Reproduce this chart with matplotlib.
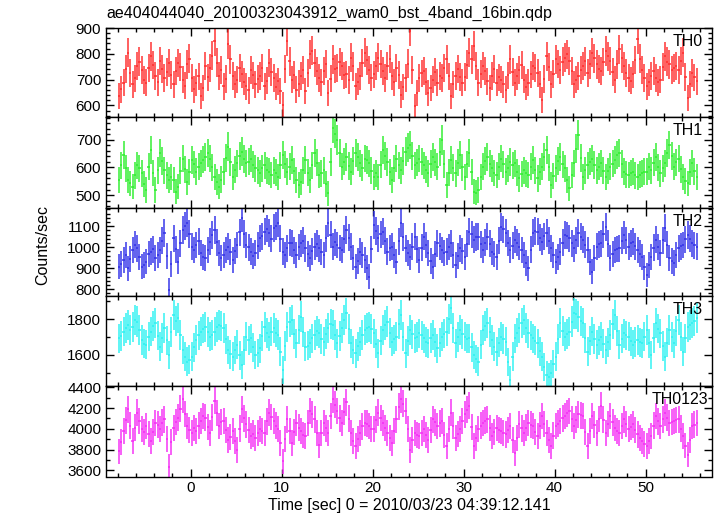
import numpy as np
import matplotlib
matplotlib.use("Agg")
import matplotlib.pyplot as plt
from matplotlib.ticker import MultipleLocator

plt.rcParams['font.family'] = ['Liberation Sans', 'DejaVu Sans']

# time bin centers (16 x 1/64 s = 0.25 s bins)
bin_width = 0.25
time = np.arange(-7.875, 55.70, bin_width)

th0 = [635, 662, 687, 741, 804, 726, 681, 705, 752, 770, 739, 698, 687, 745, 791, 757, 713, 689, 772, 741,
       707, 728, 765, 718, 681, 732, 765, 748, 700, 676, 759, 781, 707, 662, 687, 712, 635, 668, 752, 709,
       746, 793, 850, 766, 713, 739, 674, 702, 837, 779, 713, 681, 700, 744, 720, 692, 674, 658, 739, 716,
       681, 702, 713, 744, 674, 696, 765, 728, 707, 672, 694, 655, 603, 742, 850, 771, 700, 718, 661, 683,
       713, 736, 655, 727, 798, 812, 765, 732, 707, 689, 733, 761, 648, 704, 778, 740, 746, 768, 752, 716,
       720, 698, 785, 751, 674, 692, 713, 765, 804, 775, 739, 708, 720, 752, 785, 761, 733, 707, 752, 780,
       713, 690, 746, 719, 642, 671, 707, 762, 888, 736, 597, 648, 707, 724, 733, 691, 648, 667, 700, 729,
       687, 714, 707, 745, 778, 712, 635, 682, 713, 740, 711, 688, 711, 758, 804, 779, 830, 752, 687, 721,
       752, 733, 694, 668, 713, 742, 687, 709, 700, 681, 661, 716, 778, 730, 687, 712, 739, 756, 700, 671,
       687, 720, 752, 744, 726, 681, 622, 703, 791, 748, 681, 722, 778, 761, 739, 769, 785, 798, 772, 735,
       681, 700, 713, 738, 752, 771, 726, 759, 804, 782, 759, 741, 733, 768, 811, 790, 772, 731, 700, 759,
       817, 783, 752, 726, 707, 695, 720, 776, 856, 781, 739, 707, 674, 690, 713, 734, 707, 689, 700, 748,
       791, 770, 759, 737, 746, 752, 739, 772, 804, 710, 629, 681, 726, 709, 694]

th1 = [554, 608, 645, 596, 554, 542, 530, 571, 608, 597, 578, 541, 518, 602, 663, 580, 518, 589, 651, 622,
       590, 571, 554, 566, 554, 512, 530, 588, 632, 594, 548, 583, 626, 611, 584, 602, 614, 628, 639, 651,
       632, 601, 566, 547, 530, 556, 584, 633, 675, 619, 566, 592, 614, 640, 657, 629, 614, 621, 632, 610,
       596, 589, 578, 597, 608, 590, 584, 572, 590, 581, 566, 608, 645, 611, 584, 603, 626, 587, 554, 536,
       548, 590, 626, 581, 554, 607, 651, 617, 572, 579, 590, 541, 506, 620, 741, 722, 699, 651, 602, 621,
       639, 605, 584, 622, 651, 636, 614, 598, 632, 627, 614, 588, 566, 579, 566, 610, 663, 642, 620, 583,
       554, 596, 632, 608, 590, 624, 657, 671, 681, 640, 608, 617, 632, 621, 608, 591, 578, 612, 639, 618,
       602, 655, 699, 612, 536, 581, 626, 598, 578, 617, 645, 601, 566, 611, 651, 583, 512, 509, 518, 566,
       602, 624, 639, 613, 596, 580, 572, 603, 632, 611, 584, 597, 620, 608, 614, 582, 560, 576, 590, 579,
       572, 603, 626, 589, 560, 584, 602, 637, 663, 600, 536, 569, 596, 622, 639, 611, 596, 553, 524, 572,
       614, 668, 717, 634, 566, 590, 608, 621, 632, 609, 590, 603, 614, 588, 566, 587, 602, 613, 626, 644,
       651, 612, 584, 575, 572, 580, 584, 571, 566, 574, 578, 585, 584, 603, 590, 617, 639, 601, 578, 597,
       614, 652, 681, 641, 602, 618, 632, 594, 566, 551, 542, 583, 614, 586, 566]

th2 = [908, 921, 940, 961, 900, 944, 987, 1012, 995, 952, 908, 915, 932, 968, 979, 990, 947, 963, 987, 1031,
       1067, 958, 797, 921, 1043, 990, 932, 1018, 1082, 1101, 1114, 1062, 1003, 987, 1011, 1029, 971, 955, 947, 986,
       1027, 1058, 1082, 1024, 971, 949, 963, 988, 1003, 976, 940, 982, 1011, 1071, 1138, 1062, 1011, 1000, 979, 958,
       971, 1008, 1043, 1052, 1074, 1089, 1067, 1041, 1090, 1102, 1114, 1040, 979, 962, 995, 1022, 1019, 985, 963, 1001,
       1019, 1030, 995, 968, 947, 980, 1003, 1016, 995, 977, 963, 1043, 1114, 1060, 1003, 1024, 1011, 996, 987, 1039,
       1082, 1045, 1003, 951, 908, 934, 979, 965, 940, 903, 860, 990, 1106, 1078, 1043, 1061, 1074, 1032, 979, 997,
       1003, 962, 932, 1028, 1114, 1049, 995, 971, 955, 1003, 1051, 990, 940, 998, 1051, 1010, 971, 936, 908, 968,
       1019, 1004, 987, 974, 979, 1002, 1019, 961, 916, 958, 995, 981, 955, 1016, 1074, 1061, 1035, 1049, 1051, 1013,
       987, 1022, 1051, 1017, 979, 966, 955, 1031, 1098, 1085, 1067, 1020, 987, 1008, 1035, 1021, 1003, 987, 963, 925,
       900, 989, 1067, 1078, 1074, 1046, 1027, 1052, 1067, 1030, 995, 961, 932, 954, 979, 1021, 1059, 1055, 1043, 1018,
       995, 1033, 1067, 1050, 1035, 1012, 987, 929, 884, 947, 1003, 1014, 1019, 1061, 1098, 1016, 947, 968, 987, 992,
       995, 1030, 1059, 1033, 1003, 1018, 1027, 1004, 987, 970, 955, 905, 868, 916, 955, 998, 1035, 1002, 971, 1034,
       1090, 1012, 947, 936, 924, 962, 995, 1004, 1011, 1037, 1059, 1041, 1019, 1009, 1003]

th3 = [1693, 1705, 1731, 1752, 1768, 1738, 1759, 1795, 1787, 1741, 1684, 1662, 1656, 1702, 1731, 1760, 1777, 1708, 1647, 1695,
       1749, 1681, 1600, 1727, 1824, 1789, 1805, 1712, 1628, 1590, 1563, 1574, 1591, 1642, 1684, 1709, 1731, 1748, 1759, 1728,
       1703, 1712, 1731, 1755, 1768, 1761, 1749, 1690, 1628, 1603, 1591, 1628, 1656, 1598, 1544, 1627, 1703, 1681, 1693, 1642,
       1600, 1611, 1637, 1705, 1759, 1724, 1703, 1731, 1749, 1725, 1712, 1618, 1516, 1650, 1759, 1783, 1796, 1718, 1665, 1742,
       1815, 1729, 1647, 1652, 1665, 1693, 1712, 1733, 1721, 1690, 1675, 1718, 1749, 1772, 1768, 1711, 1665, 1707, 1749, 1796,
       1833, 1747, 1665, 1628, 1609, 1648, 1675, 1712, 1740, 1752, 1759, 1744, 1721, 1663, 1609, 1680, 1740, 1769, 1787, 1722,
       1675, 1688, 1703, 1771, 1824, 1702, 1609, 1678, 1740, 1715, 1693, 1701, 1721, 1710, 1693, 1672, 1665, 1694, 1712, 1670,
       1637, 1668, 1703, 1719, 1731, 1802, 1861, 1752, 1665, 1701, 1740, 1718, 1703, 1691, 1693, 1642, 1600, 1578, 1563, 1656,
       1740, 1762, 1777, 1728, 1684, 1647, 1619, 1668, 1703, 1690, 1675, 1561, 1460, 1590, 1693, 1725, 1749, 1780, 1796, 1752,
       1721, 1710, 1693, 1680, 1665, 1621, 1591, 1532, 1488, 1479, 1497, 1548, 1591, 1690, 1777, 1736, 1703, 1718, 1731, 1787,
       1833, 1829, 1815, 1792, 1777, 1694, 1619, 1680, 1731, 1690, 1656, 1681, 1703, 1662, 1628, 1671, 1712, 1771, 1824, 1735,
       1656, 1692, 1721, 1710, 1703, 1676, 1656, 1673, 1684, 1671, 1665, 1702, 1740, 1665, 1600, 1694, 1777, 1748, 1721, 1650,
       1591, 1668, 1740, 1701, 1665, 1734, 1796, 1702, 1619, 1693, 1759, 1766, 1777, 1790, 1805]

th0123 = [3782, 3871, 3977, 4082, 4188, 4030, 3880, 4012, 4156, 4075, 3994, 3968, 4026, 3951, 3880, 3972, 4058, 4041, 3994, 4060,
          4091, 3902, 3636, 3870, 4010, 4066, 4107, 4191, 4286, 4143, 4026, 3987, 3961, 4004, 3977, 4031, 4075, 4122, 4107, 4018,
          3961, 4109, 4270, 4152, 4026, 4063, 4075, 3988, 3896, 3921, 3977, 3885, 3798, 4002, 4188, 4101, 4042, 3986, 3929, 3954,
          3912, 3960, 3994, 3981, 3961, 4070, 4156, 4112, 4075, 4030, 3994, 3862, 3685, 3902, 4091, 3975, 3864, 3969, 4058, 4012,
          3977, 3940, 3929, 4058, 4172, 4140, 4091, 3963, 3847, 3958, 4058, 4003, 3961, 4124, 4286, 4230, 4172, 4101, 4058, 4165,
          4254, 4098, 3961, 3880, 3831, 3902, 3961, 4022, 4058, 4049, 4026, 4001, 3994, 4087, 4156, 4103, 4058, 4004, 3961, 3913,
          3864, 3982, 4091, 4213, 4286, 4240, 4172, 3995, 3798, 3889, 3961, 3942, 3929, 3963, 3994, 3937, 3896, 3990, 4091, 4062,
          4026, 4051, 4075, 3944, 3831, 3998, 4156, 4031, 3912, 3951, 3994, 4076, 4140, 4185, 4221, 4020, 3831, 3915, 3994, 4031,
          4058, 4078, 4091, 4004, 3929, 3972, 4010, 3990, 3977, 3962, 3945, 3988, 4026, 3890, 3766, 3911, 4042, 4003, 3961, 4012,
          4058, 4041, 4026, 3971, 3929, 4030, 4123, 4046, 3961, 3893, 3831, 3935, 4026, 4050, 4075, 4101, 4123, 4150, 4172, 4095,
          4026, 4088, 4140, 4131, 4123, 3970, 3831, 3981, 4123, 4040, 3961, 4092, 4221, 4087, 3961, 4043, 4123, 4062, 4010, 3982,
          3961, 4028, 4091, 4043, 3994, 4019, 4042, 3990, 3945, 3912, 3880, 3852, 3831, 3878, 3929, 4031, 4123, 4071, 4026, 4090,
          4156, 4107, 4058, 4066, 4075, 4083, 4091, 4002, 3929, 3838, 3750, 3891, 4026, 4040, 4058]

names = ["TH0", "TH1", "TH2", "TH3", "TH0123"]
series = [th0, th1, th2, th3, th0123]
colors = ["#ff2a2a", "#2cee2c", "#2e2ee8", "#2af2f2", "#f52af5"]
ylims = [(555, 900), (455, 782), (768, 1189), (1426, 1930), (3540, 4412)]
yticks = [[600, 700, 800, 900], [500, 600, 700], [800, 900, 1000, 1100], [1600, 1800],
          [3600, 3800, 4000, 4200, 4400]]
yminor = [20, 20, 20, 100, 100]

W, H = 717, 516
fig = plt.figure(figsize=(W / 100, H / 100), dpi=100)
edges = [28, 117, 207.5, 296, 386, 476.5]
left, right = 106, 712

for i in range(5):
    top, bot = edges[i], edges[i + 1]
    ax = fig.add_axes([left / W, 1 - bot / H, (right - left) / W, (bot - top) / H])
    v = np.array(series[i], dtype=float)
    n = min(len(v), len(time))
    t = time[:n]
    v = v[:n]
    err = np.sqrt(v / bin_width)
    ax.errorbar(t, v, xerr=bin_width / 2, yerr=err, fmt='none', ecolor=colors[i],
                elinewidth=1.2, capsize=0, alpha=0.88)
    ax.set_xlim(-9.3, 57.3)
    ax.set_ylim(*ylims[i])
    ax.set_yticks(yticks[i])
    ax.yaxis.set_minor_locator(MultipleLocator(yminor[i]))
    ax.xaxis.set_major_locator(MultipleLocator(10))
    ax.xaxis.set_minor_locator(MultipleLocator(2))
    ax.tick_params(which='both', direction='in', top=True, right=True, labelsize=11,
                   width=1, color='black')
    ax.tick_params(which='major', length=6)
    ax.tick_params(which='minor', length=3)
    for s in ax.spines.values():
        s.set_linewidth(1.0)
        s.set_zorder(5)
    if i < 4:
        ax.tick_params(labelbottom=False)
    xl = 0.993 if i == 4 else 0.985
    ax.text(xl, 0.93, names[i], transform=ax.transAxes, ha='right', va='top', fontsize=11.5,
            zorder=6)
    if i == 0:
        ax.set_title("ae404044040_20100323043912_wam0_bst_4band_16bin.qdp", loc='left',
                     fontsize=11.5, pad=7, x=0.0)
    if i == 4:
        ax.set_xlabel("Time [sec] 0 = 2010/03/23 04:39:12.141", fontsize=11.5, labelpad=2)

fig.text(43 / W, 1 - 245 / H, "Counts/sec", rotation=90, ha='center', va='center', fontsize=11.5)

fig.savefig("out.png", dpi=100)
